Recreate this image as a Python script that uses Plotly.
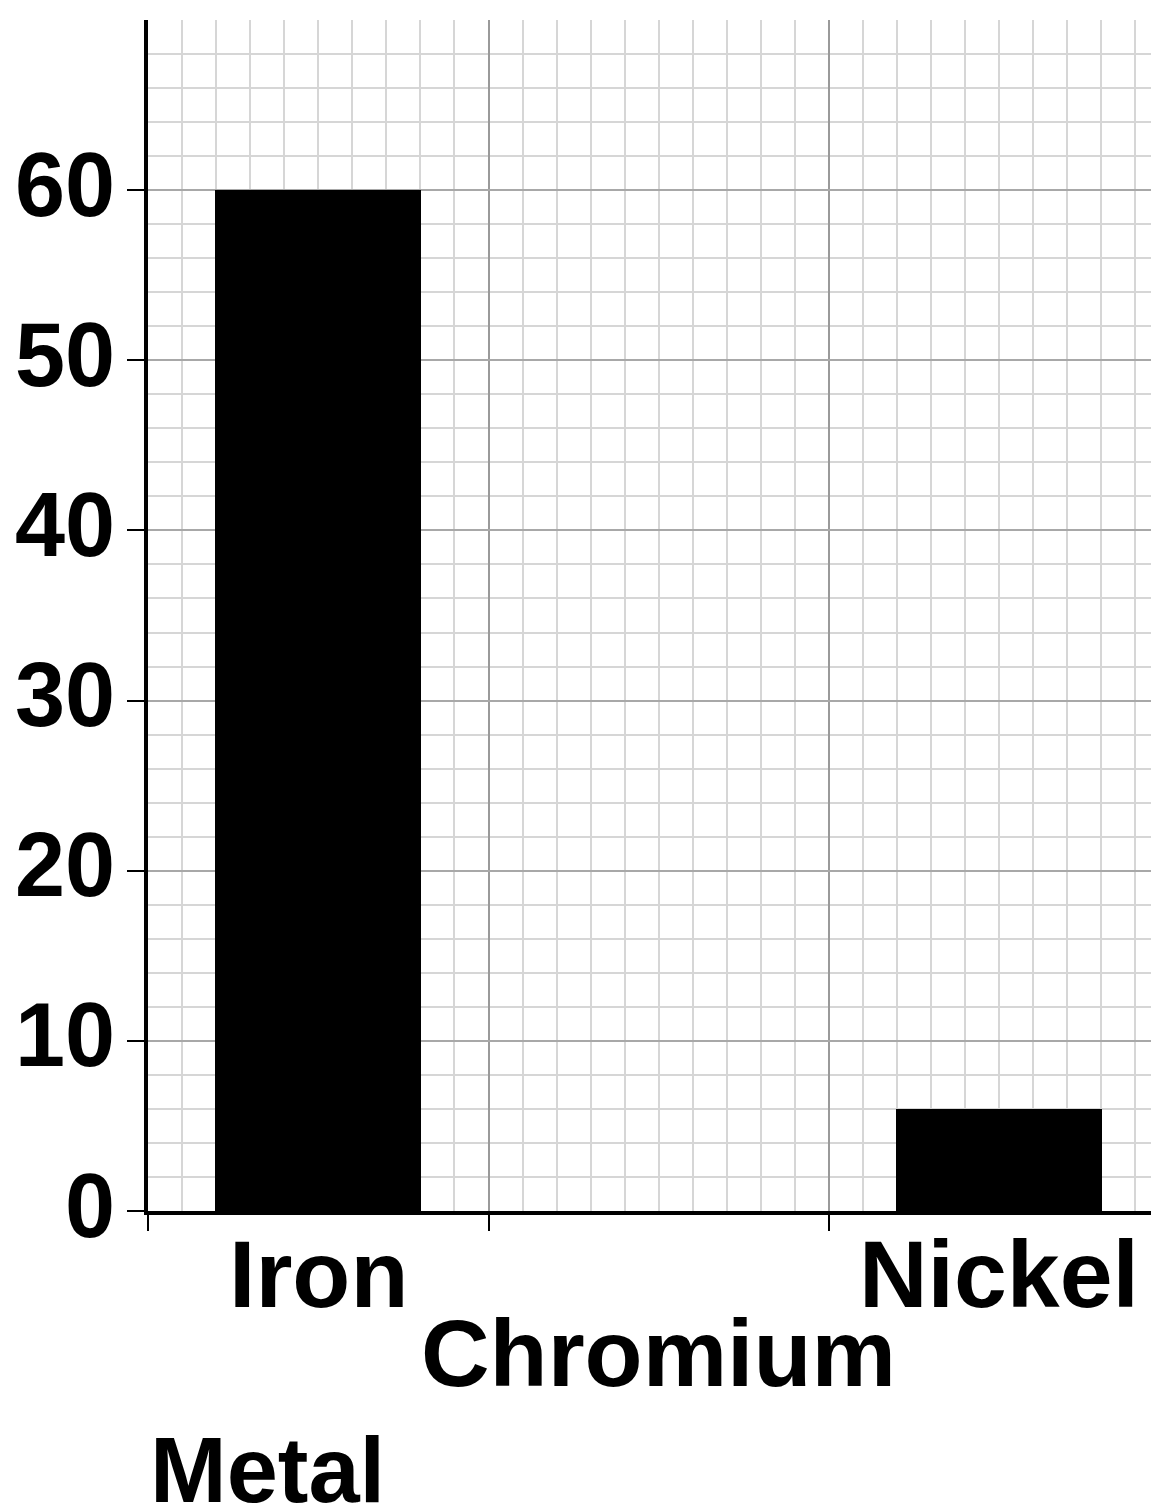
import plotly.graph_objects as go

metals = ["Iron", "Chromium", "Nickel"]
percent = [60, None, 6]
y_ticks = [0, 10, 20, 30, 40, 50, 60]
x_title = "Metal"

FONT = "Liberation Sans"
pos = list(range(len(metals)))

fig = go.Figure()
fig.add_trace(go.Bar(
    x=pos, y=percent, width=0.605,
    marker=dict(color="black", line=dict(width=0)),
    showlegend=False,
))

# category labels (staggered)
shifts = [-8, -87, -8]
for p, name, s in zip(pos, metals, shifts):
    fig.add_annotation(x=p, y=0, xref="x", yref="y", text=name, showarrow=False,
                       yanchor="top", xanchor="center", yshift=s,
                       font=dict(family=FONT, size=95, color="black", weight="bold"))

fig.add_annotation(x=0, y=0, xref="paper", yref="paper", text=x_title, showarrow=False,
                   xanchor="left", yanchor="top", yshift=-206,
                   font=dict(family=FONT, size=92, color="black", weight="bold"))

fig.update_layout(
    width=1159, height=1506,
    margin=dict(l=140, r=8, t=12, b=303),
    paper_bgcolor="white", plot_bgcolor="white",
    bargap=0,
)
fig.update_xaxes(
    range=[-0.5, -0.5 + 1011 / 340.5],
    tickvals=[-0.5, 0.5, 1.5, 2.5], ticktext=["", "", "", ""],
    showgrid=True, gridcolor="#9a9a9a", gridwidth=2,
    ticks="outside", ticklen=16, tickwidth=1.5, tickcolor="black",
    showline=True, linecolor="black", linewidth=4,
    minor=dict(dtick=0.1, tick0=-0.5, showgrid=True, gridcolor="#d6d6d6", gridwidth=1.5, ticks=""),
    zeroline=False, fixedrange=True,
)
fig.update_yaxes(
    range=[0, 70],
    tickvals=y_ticks,
    tickfont=dict(family=FONT, size=90, color="black", weight="bold"),
    showgrid=True, gridcolor="#a8a8a8", gridwidth=2,
    ticks="outside", ticklen=17, tickwidth=2, tickcolor="black",
    ticklabelstandoff=-6, ticklabelshift=-6,
    showline=True, linecolor="black", linewidth=4,
    minor=dict(dtick=2, tick0=0, showgrid=True, gridcolor="#d6d6d6", gridwidth=1.5, ticks=""),
    zeroline=False, fixedrange=True,
)

fig.write_html("out.html")
